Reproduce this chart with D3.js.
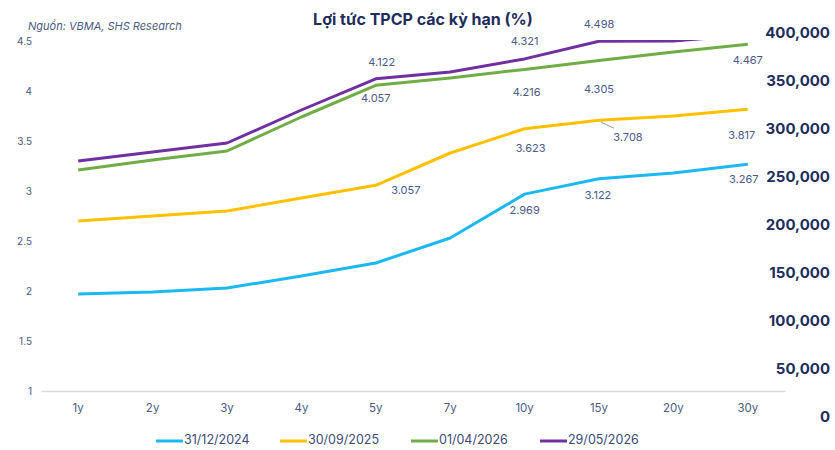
<!DOCTYPE html>
<html>
<head>
<meta charset="utf-8">
<script src="https://cdn.jsdelivr.net/npm/d3@7"></script>
<style>
    body { margin: 0; background: #fff; }
    svg text { font-family: Inter, "Noto Sans", sans-serif; }
</style>
</head>
<body>
<div id="chart"></div>
<script>
    // categories / values
    const tenors = ['1y', '2y', '3y', '4y', '5y', '7y', '10y', '15y', '20y', '30y'];
    const seriesNames = ['31/12/2024', '30/09/2025', '01/04/2026', '29/05/2026'];
    const seriesColors = ['#1cb8f2', '#ffc000', '#70ad47', '#7030a0'];

    const yield20241231 = [1.97, 1.99, 2.03, 2.15, 2.28, 2.53, 2.969, 3.122, 3.18, 3.267];
    const yield20250930 = [2.70, 2.75, 2.80, 2.93, 3.057, 3.38, 3.623, 3.708, 3.75, 3.817];
    const yield20260401 = [3.21, 3.31, 3.40, 3.74, 4.057, 4.13, 4.216, 4.305, 4.39, 4.467];
    const yield20260529 = [3.30, 3.39, 3.48, 3.81, 4.122, 4.19, 4.321, 4.498, 4.50, 4.56];

    const leftTicks = [1, 1.5, 2, 2.5, 3, 3.5, 4, 4.5];
    const rightTicks = [0, 50000, 100000, 150000, 200000, 250000, 300000, 350000, 400000];

    // which points get a value label: [series, tenor index, dx, dy]
    const labelled = [
        [3, 4, 6, -16], [2, 4, 0, 14], [3, 6, 0, -17], [2, 6, 2, 24],
        [3, 7, 0, -16], [2, 7, 0, 29], [2, 9, 0, 17],
        [1, 6, 6, 20], [1, 7, 29, 18], [1, 9, -6, 27], [1, 4, 30, 6],
        [0, 6, 0, 17], [0, 7, -1, 17], [0, 9, -4, 16]
    ];

    const allSeries = [yield20241231, yield20250930, yield20260401, yield20260529];

    const width = 835, height = 450;
    const svg = d3.select('#chart').append('svg')
        .attr('width', width)
        .attr('height', height);

    const x = d3.scaleBand().domain(tenors).range([41, 785]);
    const y = d3.scaleLinear().domain([1, 4.5]).range([391, 41]);
    const y2 = d3.scaleLinear().domain([0, 400000]).range([417, 33]);
    const cx = d => x(d) + x.bandwidth() / 2;

    // title and source
    svg.append('text')
        .attr('x', 423).attr('y', 25)
        .attr('text-anchor', 'middle')
        .style('font-size', '16px').style('font-weight', 'bold')
        .style('fill', '#1f2d5c')
        .text('Lợi tức TPCP các kỳ hạn (%)');

    svg.append('text')
        .attr('x', 28).attr('y', 30)
        .style('font-size', '11px').style('font-style', 'italic')
        .style('fill', '#4a5a80')
        .text('Nguồn: VBMA, SHS Research');

    // left axis
    const leftAxis = svg.append('g')
        .attr('transform', 'translate(32,0)')
        .call(d3.axisLeft(y).tickValues(leftTicks).tickSize(0).tickPadding(0).tickFormat(d3.format('')));
    leftAxis.select('.domain').remove();
    leftAxis.selectAll('text').style('font-size', '10px').style('fill', '#4a5a80');

    // right axis
    const rightAxis = svg.append('g')
        .attr('transform', 'translate(830,0)')
        .call(d3.axisLeft(y2).tickValues(rightTicks).tickSize(0).tickPadding(0).tickFormat(d3.format(',')));
    rightAxis.select('.domain').remove();
    rightAxis.selectAll('text')
        .style('font-size', '15px').style('font-weight', 'bold')
        .style('fill', '#1f2d5c');

    // baseline + x axis
    const xAxis = svg.append('g')
        .attr('transform', 'translate(0,391)')
        .call(d3.axisBottom(x).tickSize(0).tickPadding(13));
    xAxis.select('.domain').attr('stroke', '#d9d9d9').attr('stroke-width', 1.5);
    xAxis.selectAll('text').style('font-size', '11.5px').style('fill', '#4a5a80');

    // lines
    svg.append('clipPath').attr('id', 'plot-clip')
        .append('rect')
        .attr('x', 41).attr('y', y(4.5) - 1)
        .attr('width', 744).attr('height', y(1) - y(4.5) + 1);

    const line = d3.line()
        .x((d, i) => cx(tenors[i]))
        .y(d => y(d));

    svg.append('g')
        .attr('clip-path', 'url(#plot-clip)')
        .selectAll('path')
        .data(allSeries)
        .enter().append('path')
        .attr('d', d => line(d))
        .attr('fill', 'none')
        .attr('stroke', (d, i) => seriesColors[i])
        .attr('stroke-width', 3)
        .attr('stroke-linejoin', 'round');

    // leader line for 3.708
    svg.append('line')
        .attr('x1', cx('15y') + 2).attr('y1', y(3.708) + 2)
        .attr('x2', cx('15y') + 15).attr('y2', y(3.708) + 8)
        .attr('stroke', '#999').attr('stroke-width', 1);

    // value labels
    svg.append('g')
        .selectAll('text')
        .data(labelled)
        .enter().append('text')
        .attr('x', d => cx(tenors[d[1]]) + d[2])
        .attr('y', d => y(allSeries[d[0]][d[1]]) + d[3])
        .attr('text-anchor', 'middle')
        .attr('dominant-baseline', 'middle')
        .style('font-size', '11px')
        .style('fill', '#4b5a8a')
        .text(d => d3.format('.3f')(allSeries[d[0]][d[1]]));

    // legend
    const legendX = [156, 280, 411, 540];
    const legend = svg.append('g')
        .selectAll('g')
        .data(seriesNames)
        .enter().append('g')
        .attr('transform', (d, i) => `translate(${legendX[i]},441)`);

    legend.append('line')
        .attr('x1', 0).attr('x2', 27)
        .attr('stroke', (d, i) => seriesColors[i])
        .attr('stroke-width', 3);

    legend.append('text')
        .attr('x', 28)
        .attr('dominant-baseline', 'middle')
        .style('font-size', '12.5px')
        .style('fill', '#3c4a78')
        .text(d => d);
</script>
</body>
</html>
